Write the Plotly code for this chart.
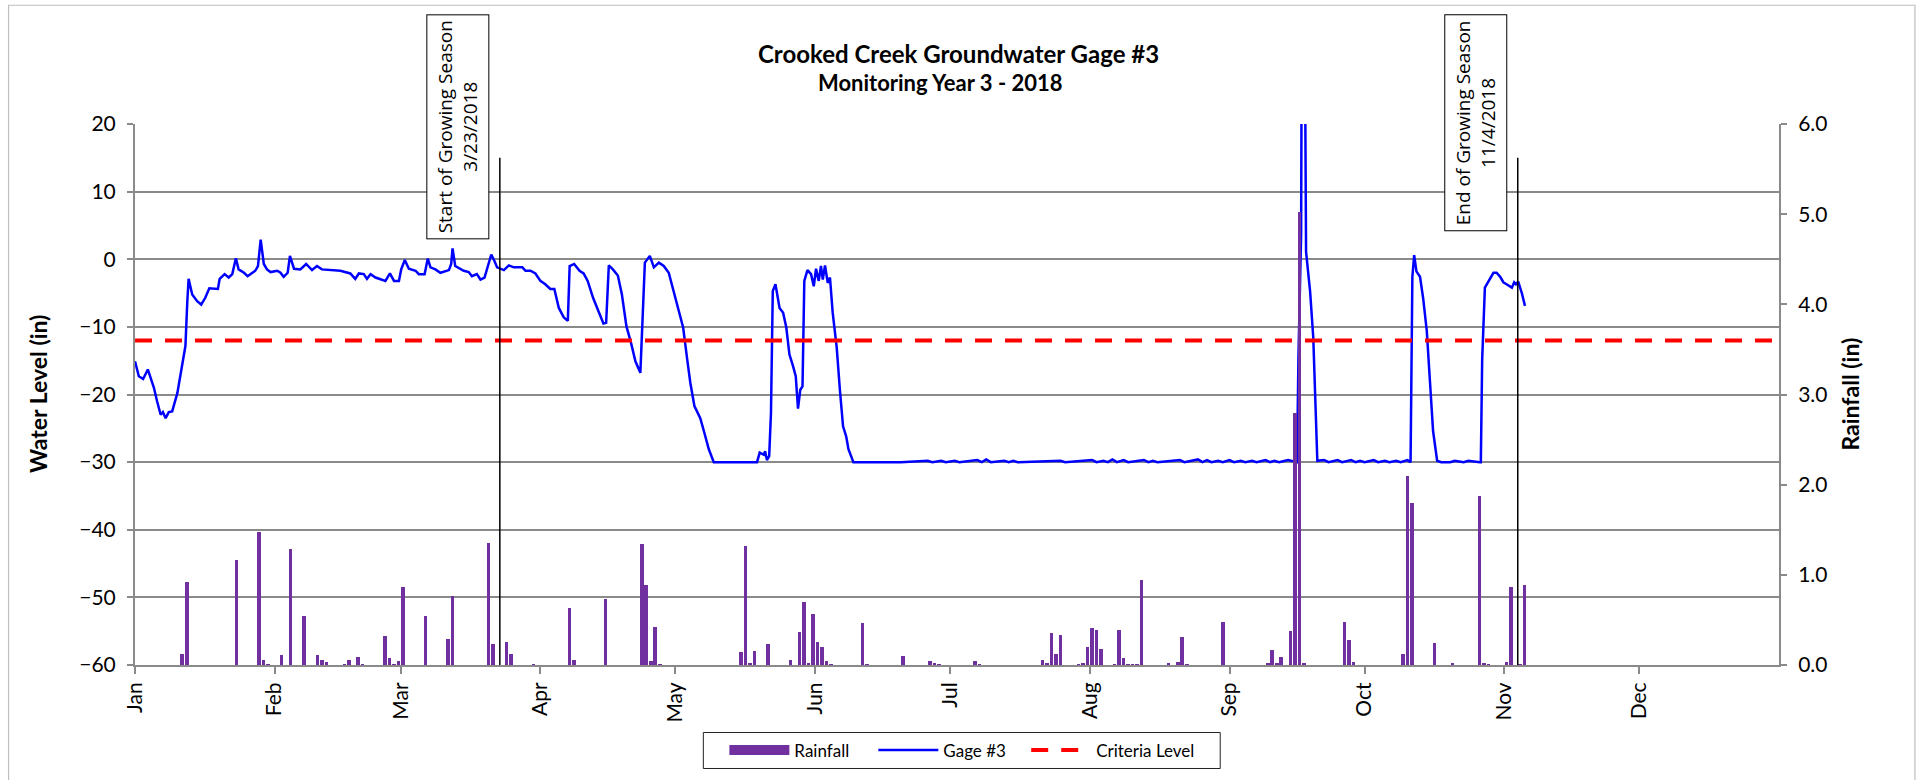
import pandas as pd
import plotly.graph_objects as go

# ---------------- data ----------------
START = pd.Timestamp("2018-01-01")

# Gage #3 water level (in); day offsets from 1 Jan 2018
gage_day = [
    0, 0.85, 1.8, 2.85, 3.6, 4.2, 4.9, 5.7, 6.2, 6.8, 7.5, 8.25, 9.4, 10.1, 10.8, 11.2, 11.6, 11.9,
    12.7, 13.8, 14.7, 15.6, 16.5, 17.5, 18.4, 18.8, 19.9, 20.8, 21.6, 22.4, 23.0, 24.2, 25.0, 26.7,
    27.3, 27.9, 28.6, 29.3, 30.1, 31.6, 32.3, 33.0, 33.9, 34.4, 35.3, 36.7, 38.0, 39.3, 40.4, 41.5,
    43.4, 45.6, 47.8, 48.9, 49.7, 50.8, 51.5, 52.3, 53.4, 55.6, 56.6, 57.5, 58.6, 59.1, 59.9, 60.8,
    62.3, 63.0, 64.3, 65.0, 65.6, 66.7, 67.8, 69.7, 70.2, 70.5, 71.1, 73.0, 74.1, 74.8, 75.9, 76.7,
    77.6, 78.2, 79.1, 79.8, 80.4, 81.9, 83.0, 84.1, 86.0, 86.7, 87.8, 88.9, 90.0, 91.1, 92.2, 93.1,
    94.1, 95.2, 96.1, 96.5, 97.5, 98.7, 99.6, 100.5, 101.7, 102.9, 104.0, 104.6, 105.2, 106.1, 107.2,
    108.1, 109.1, 110.1, 111.1, 112.2, 112.8, 113.2, 114.3, 115.2, 116.3, 117.4, 118.5, 119.6, 120.7,
    121.7, 122.6, 123.3, 124.2, 125.5, 126.3, 127.4, 128.5, 129.5, 138.1, 138.7, 139.6, 139.9, 140.3,
    140.8, 141.2, 141.6, 142.2, 143.1, 143.9, 144.6, 145.3, 146.1, 146.7, 147.2, 147.7, 148.2, 148.6,
    149.3, 150.1, 150.7, 151.2, 151.8, 152.3, 152.7, 153.2, 153.8, 154.3, 154.9, 155.8, 156.5, 157.2,
    157.9, 158.4, 159.5, 163, 170, 176, 177, 179, 180, 182, 183, 187, 188, 189, 190, 193, 194, 195,
    196, 205.5, 206.5, 212.5, 213.5, 215, 216, 217, 218, 219.5, 220.5, 224, 225, 226, 227, 232, 233,
    236, 237, 238, 239, 240.5, 241.5, 243, 244, 245.5, 246.5, 248, 249, 251, 252, 253, 254, 256,
    258.0, 258.3, 258.9, 259.0, 259.8, 260.0, 260.9, 261.6, 262.5, 264, 265, 267, 268, 270, 271, 272,
    273, 275, 276, 277.5, 278.5, 280, 281, 282.5, 283.2, 283.6, 284.0, 284.5, 285.3, 286.0, 286.8,
    287.5, 288.2, 289.1, 290, 292, 293, 295, 296, 298.6, 298.8, 299.1, 299.7, 301.6, 302.3, 303.1,
    303.8, 304.5, 305.3, 305.7, 306.2, 306.6, 307.1, 307.9, 308.6,
]
gage_level = [
    -15.1, -17.3, -17.7, -16.3, -17.8, -19.0, -21.0, -23.0, -22.6, -23.5, -22.6, -22.5, -19.8, -17.0,
    -14.8, -12.8, -6.4, -2.9, -5.2, -6.2, -6.7, -5.7, -4.3, -4.4, -4.4, -2.9, -2.2, -2.7, -2.2, 0.15,
    -1.5, -2.0, -2.5, -1.7, -1.0, 2.9, -0.7, -1.5, -1.9, -1.7, -2.0, -2.6, -2.0, 0.5, -1.4, -1.5, -0.7,
    -1.6, -1.0, -1.5, -1.6, -1.7, -2.1, -2.9, -2.1, -2.2, -2.9, -2.2, -2.7, -3.2, -2.1, -3.2, -3.2,
    -1.5, -0.1, -1.4, -1.7, -2.2, -2.2, 0.1, -1.2, -1.5, -2.0, -1.6, -0.7, 1.6, -1.0, -1.7, -1.9,
    -2.5, -2.2, -3.0, -2.7, -1.2, 0.7, -0.25, -1.2, -1.6, -0.9, -1.2, -1.2, -1.7, -1.7, -2.1, -3.2,
    -3.7, -4.4, -4.4, -7.2, -8.6, -9.1, -1.0, -0.7, -1.7, -2.1, -3.2, -5.7, -7.7, -9.5, -9.4, -0.9,
    -1.5, -2.4, -5.2, -9.9, -12.3, -15.1, -16.8, -5.4, -0.5, 0.5, -1.2, -0.5, -1.0, -2.0, -4.7, -7.4,
    -10.1, -14.8, -18.3, -21.7, -23.5, -25.4, -28.1, -30.0, -30.0, -30.0, -28.6, -28.9, -28.4, -29.7,
    -29.1, -22.7, -4.7, -3.7, -7.2, -7.9, -10.1, -14.1, -15.8, -17.3, -22.1, -19.3, -18.8, -3.2, -1.6,
    -2.2, -4.0, -1.4, -3.2, -1.0, -3.0, -0.9, -3.5, -2.7, -7.9, -13.1, -19.3, -24.7, -26.2, -28.1,
    -30.0, -30.0, -30.0, -29.8, -30.0, -29.8, -30.0, -29.8, -30.0, -29.7, -30.0, -29.6, -30.0, -29.8,
    -30.0, -29.8, -30.0, -29.8, -30.0, -29.7, -30.0, -29.8, -30.0, -29.6, -30.0, -29.7, -30.0, -29.7,
    -30.0, -29.8, -30.0, -29.7, -30.0, -29.6, -30.0, -29.7, -30.0, -29.8, -30.0, -29.7, -30.0, -29.8,
    -30.0, -29.8, -30.0, -29.7, -30.0, -29.8, -30.0, -29.7, -30.0, -14.8, 3.7, 25.0, 25.0, 1.1, -4.8,
    -11.6, -29.8, -29.7, -30.0, -29.7, -30.0, -29.7, -30.0, -29.8, -30.0, -29.7, -30.0, -29.8, -30.0,
    -29.8, -30.0, -29.7, -30.0, -2.6, 0.6, -1.8, -2.6, -5.8, -10.6, -18.0, -25.4, -29.8, -30.0, -30.0,
    -29.8, -30.0, -29.8, -30.0, -30.0, -14.8, -4.2, -2.0, -2.0, -2.6, -3.4, -3.7, -4.0, -4.2, -3.4,
    -3.7, -3.3, -5.0, -6.9, -5.0,
]

# Daily rainfall (in)
rain_date = [
    "2018-01-11", "2018-01-12", "2018-01-23", "2018-01-28", "2018-01-29", "2018-01-30", "2018-02-02",
    "2018-02-04", "2018-02-07", "2018-02-10", "2018-02-11", "2018-02-12", "2018-02-16", "2018-02-17",
    "2018-02-19", "2018-02-20", "2018-02-25", "2018-02-26", "2018-02-27", "2018-02-28", "2018-03-01",
    "2018-03-06", "2018-03-11", "2018-03-12", "2018-03-20", "2018-03-21", "2018-03-24", "2018-03-25",
    "2018-03-30", "2018-04-07", "2018-04-08", "2018-04-15", "2018-04-23", "2018-04-24", "2018-04-25",
    "2018-04-26", "2018-04-27", "2018-05-15", "2018-05-16", "2018-05-17", "2018-05-18", "2018-05-21",
    "2018-05-26", "2018-05-28", "2018-05-29", "2018-05-30", "2018-05-31", "2018-06-01", "2018-06-02",
    "2018-06-03", "2018-06-04", "2018-06-11", "2018-06-12", "2018-06-20", "2018-06-26", "2018-06-27",
    "2018-06-28", "2018-07-06", "2018-07-07", "2018-07-21", "2018-07-22", "2018-07-23", "2018-07-24",
    "2018-07-25", "2018-07-29", "2018-07-30", "2018-07-31", "2018-08-01", "2018-08-02", "2018-08-03",
    "2018-08-06", "2018-08-07", "2018-08-08", "2018-08-09", "2018-08-10", "2018-08-11", "2018-08-12",
    "2018-08-18", "2018-08-20", "2018-08-21", "2018-08-22", "2018-08-30", "2018-09-09", "2018-09-10",
    "2018-09-11", "2018-09-12", "2018-09-14", "2018-09-15", "2018-09-16", "2018-09-17", "2018-09-26",
    "2018-09-27", "2018-09-28", "2018-10-09", "2018-10-10", "2018-10-11", "2018-10-16", "2018-10-20",
    "2018-10-26", "2018-10-27", "2018-10-28", "2018-11-01", "2018-11-02", "2018-11-04", "2018-11-05",
]
rain_in = [
    0.12, 0.92, 1.16, 1.48, 0.06, 0.01, 0.11, 1.29, 0.54, 0.11, 0.06, 0.03, 0.01, 0.05, 0.09, 0.01,
    0.32, 0.08, 0.01, 0.04, 0.86, 0.54, 0.29, 0.77, 1.35, 0.23, 0.26, 0.12, 0.01, 0.63, 0.06, 0.73,
    1.34, 0.89, 0.04, 0.42, 0.01, 0.14, 1.32, 0.02, 0.15, 0.23, 0.05, 0.37, 0.70, 0.02, 0.57, 0.26,
    0.20, 0.04, 0.01, 0.47, 0.01, 0.10, 0.04, 0.02, 0.01, 0.04, 0.01, 0.05, 0.02, 0.36, 0.12, 0.33,
    0.01, 0.02, 0.20, 0.41, 0.39, 0.18, 0.01, 0.39, 0.08, 0.01, 0.01, 0.01, 0.94, 0.02, 0.03, 0.31,
    0.01, 0.48, 0.02, 0.17, 0.02, 0.09, 0.38, 2.80, 5.02, 0.02, 0.48, 0.28, 0.03, 0.12, 2.10, 1.80,
    0.24, 0.02, 1.87, 0.02, 0.01, 0.03, 0.86, 0.01, 0.89,
]

criteria_level = -12
season_start = "2018-03-23"
season_end = "2018-11-04"
month_ticks = ["2018-%02d-01" % m for m in range(1, 13)]
month_labels = ["Jan", "Feb", "Mar", "Apr", "May", "Jun", "Jul", "Aug", "Sep", "Oct", "Nov", "Dec"]

# ---------------- figure ----------------
gage_x = START + pd.to_timedelta(gage_day, unit="D")
rain_x = pd.to_datetime(rain_date) + pd.Timedelta(hours=12)

GRID = "#8a8a8a"
FONT = "Lato"
PURPLE = "#7030A0"

fig = go.Figure()
fig.add_trace(go.Bar(
    x=rain_x, y=rain_in, name="Rainfall", yaxis="y2", showlegend=False,
    legendgroup="rain",
    marker=dict(color=PURPLE, line=dict(width=0)),
    width=0.8 * 86400000,
))
# legend key for rainfall (wide purple swatch, like the original)
fig.add_trace(go.Scatter(
    x=[None], y=[None], name="Rainfall", mode="lines", legendgroup="rain",
    line=dict(color=PURPLE, width=11), legend="legend",
))
fig.add_trace(go.Scatter(
    x=gage_x, y=gage_level, name="Gage #3", mode="lines",
    line=dict(color="#0000FF", width=2.5), legend="legend2",
))
fig.add_trace(go.Scatter(
    x=["2018-01-01", "2019-01-01"], y=[criteria_level, criteria_level],
    name="Criteria Level", mode="lines",
    line=dict(color="#FF0000", width=4, dash="17px,13px"), legend="legend3",
))

leg_common = dict(orientation="h", xanchor="left", y=-0.158, yanchor="middle",
                  borderwidth=0, bgcolor="rgba(0,0,0,0)",
                  font=dict(family=FONT, size=17), itemwidth=60)

fig.update_layout(
    width=1921, height=780,
    margin=dict(l=135, r=142, t=124, b=115),
    paper_bgcolor="white", plot_bgcolor="white",
    font=dict(family=FONT, size=20, color="black"),
    showlegend=True,
    legend=dict(x=0.3585, **leg_common),
    legend2=dict(x=0.4491, **leg_common),
    legend3=dict(x=0.5421, **leg_common),
    bargap=0,
    xaxis=dict(
        type="date", range=["2018-01-01", "2019-01-01"],
        tickmode="array", tickvals=month_ticks, ticktext=month_labels, tickangle=-90,
        showgrid=False, showline=True, linecolor=GRID, linewidth=2,
        ticks="outside", ticklen=7, tickcolor=GRID, tickwidth=1.5,
        tickfont=dict(family=FONT, size=21), zeroline=False,
    ),
    yaxis=dict(
        range=[-60, 20], tickmode="linear", tick0=-60, dtick=10,
        showgrid=True, gridcolor=GRID, gridwidth=1.5,
        showline=True, linecolor=GRID, linewidth=2,
        ticks="outside", ticklen=6, tickcolor=GRID, tickwidth=1.5,
        tickfont=dict(family=FONT, size=21), zeroline=False, ticklabelstandoff=7,
    ),
    yaxis2=dict(
        range=[0, 6], tickmode="linear", tick0=0, dtick=1, tickformat=".1f",
        overlaying="y", side="right", showgrid=False,
        showline=True, linecolor=GRID, linewidth=2,
        ticks="outside", ticklen=6, tickcolor=GRID, tickwidth=1.5,
        tickfont=dict(family=FONT, size=21), zeroline=False, ticklabelstandoff=7,
    ),
)

# growing season lines
for d in (season_start, season_end):
    fig.add_shape(type="line", xref="x", yref="y", x0=d, x1=d, y0=-60, y1=15,
                  line=dict(color="black", width=1.5), layer="above")

# outer chart border
fig.add_shape(type="rect", xref="paper", yref="paper",
              x0=-0.0769, x1=1.0827, y0=-0.26, y1=1.2195,
              line=dict(color="#BFBFBF", width=1.2), layer="below")
# legend frame
fig.add_shape(type="rect", xref="paper", yref="paper",
              x0=0.3457, x1=0.6601, y0=-0.1913, y1=-0.1248,
              line=dict(color="#222222", width=1), layer="below")

ann = []
ann.append(dict(text="<b>Crooked Creek Groundwater Gage #3</b>", xref="paper", yref="paper",
                x=0.501, y=1.1303, xanchor="center", yanchor="middle", showarrow=False,
                font=dict(family=FONT, size=24, color="black")))
ann.append(dict(text="<b>Monitoring Year 3 - 2018</b>", xref="paper", yref="paper",
                x=0.4898, y=1.0767, xanchor="center", yanchor="middle", showarrow=False,
                font=dict(family=FONT, size=22, color="black")))
ann.append(dict(text="<b>Water Level (in)</b>", xref="paper", yref="paper",
                x=-0.0593, y=0.5, xanchor="center", yanchor="middle", textangle=-90,
                showarrow=False, font=dict(family=FONT, size=23, color="black")))
ann.append(dict(text="<b>Rainfall (in)</b>", xref="paper", yref="paper",
                x=1.0426, y=0.5, xanchor="center", yanchor="middle", textangle=-90,
                showarrow=False, font=dict(family=FONT, size=23, color="black")))
for d, txt in ((season_start, "Start of Growing Season<br>3/23/2018"),
               (season_end, "End of Growing Season<br>11/4/2018")):
    ann.append(dict(text=txt, xref="x", yref="paper", x=d, y=1.2024,
                    xanchor="right", yanchor="top", xshift=-11, textangle=-90,
                    showarrow=False, bordercolor="black", borderwidth=1, borderpad=5,
                    bgcolor="white", font=dict(family="Open Sans", size=19, color="black")))
fig.update_layout(annotations=ann)

fig.write_html("out.html")
